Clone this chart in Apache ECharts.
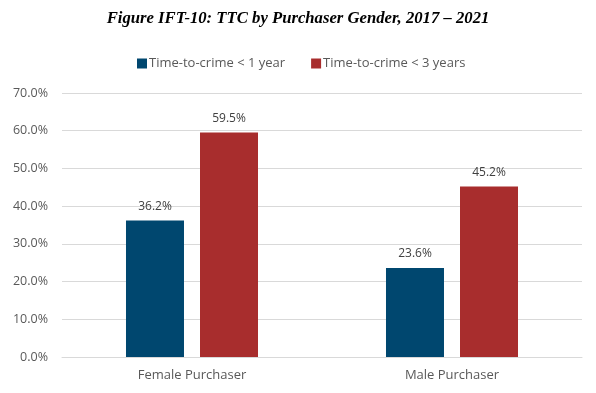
<!DOCTYPE html>
<html>
<head>
<meta charset="utf-8">
<script src="https://cdn.jsdelivr.net/npm/echarts@6/dist/echarts.min.js"></script>
<style>html,body{margin:0;padding:0;background:#fff}#c{width:596px;height:393px}</style>
</head>
<body>
<div id="c"></div>
<script>
var categories = ['Female Purchaser', 'Male Purchaser'];
var seriesNames = ['Time-to-crime < 1 year', 'Time-to-crime < 3 years'];
var lessThan1Year = [36.2, 23.6];
var lessThan3Years = [59.5, 45.2];
var yTicks = [0, 10, 20, 30, 40, 50, 60, 70];

var chart = echarts.init(document.getElementById('c'), null, {renderer: 'canvas'});
var labelFont = {show: true, position: 'top', distance: 8, color: '#404040', fontSize: 12,
  fontFamily: 'Open Sans', formatter: function (p) { return p.value.toFixed(1) + '%'; }};
chart.setOption({
  animation: false,
  title: {
    text: 'Figure IFT-10: TTC by Purchaser Gender, 2017 – 2021',
    left: 'center', top: 5,
    textStyle: {fontFamily: 'Liberation Serif', fontStyle: 'italic', fontWeight: 'bold', fontSize: 16.7, color: '#000'}
  },
  legend: {
    top: 52, left: 132, itemWidth: 10, itemHeight: 10, itemGap: 26,
    icon: 'rect',
    textStyle: {fontFamily: 'Open Sans', fontSize: 13, color: '#595959', padding: [0, 0, 0, -3]},
    data: seriesNames
  },
  grid: {left: 62, right: 14, top: 93, bottom: 36, containLabel: false},
  xAxis: {
    type: 'category', data: categories,
    axisLine: {lineStyle: {color: '#D9D9D9', width: 1}},
    axisTick: {show: false},
    axisLabel: {color: '#595959', fontSize: 13, fontFamily: 'Open Sans', margin: 12}
  },
  yAxis: {
    type: 'value', min: yTicks[0], max: yTicks[yTicks.length - 1], interval: 10,
    axisLine: {show: false}, axisTick: {show: false},
    splitLine: {lineStyle: {color: '#D9D9D9', width: 1}},
    axisLabel: {color: '#595959', fontSize: 12.5, fontFamily: 'Open Sans', margin: 14,
      formatter: function (v) { return v.toFixed(1) + '%'; }}
  },
  series: [
    {name: seriesNames[0], type: 'bar', data: lessThan1Year, barWidth: 58, barGap: '27.6%',
     itemStyle: {color: '#00476F'}, label: labelFont},
    {name: seriesNames[1], type: 'bar', data: lessThan3Years, barWidth: 58,
     itemStyle: {color: '#A82D2D'}, label: labelFont}
  ]
});
</script>
</body>
</html>
